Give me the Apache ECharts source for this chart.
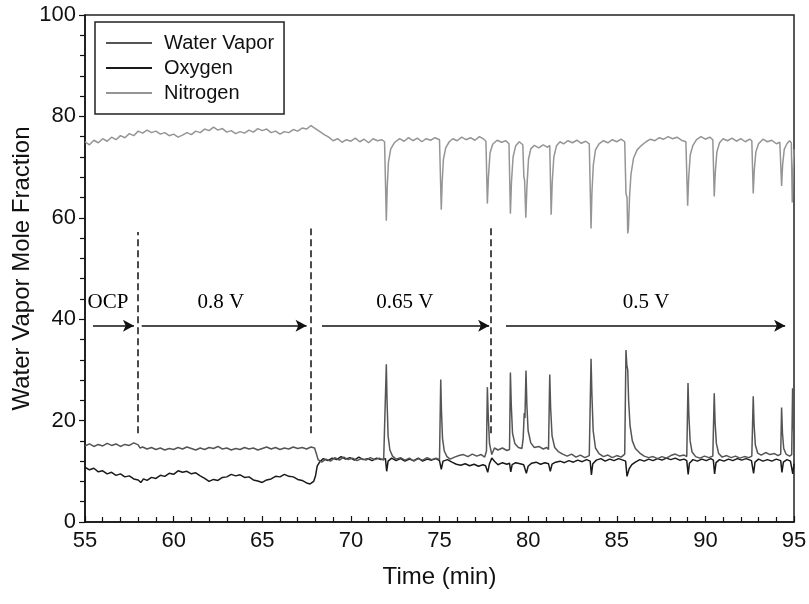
<!DOCTYPE html>
<html>
<head>
<meta charset="utf-8">
<script src="https://cdn.jsdelivr.net/npm/echarts@6/dist/echarts.min.js"></script>
<style>
  html, body { margin: 0; padding: 0; background: #fff; }
  #main { width: 809px; height: 604px; }
</style>
</head>
<body>
<div id="main"></div>
<script>
// [time (min), mole fraction]
const nitrogen = [
  [55.0,75.0],[55.25,74.4],[55.5,75.3],[55.75,74.8],[56.0,75.6],[56.25,75.1],[56.5,75.9],[56.75,75.4],
  [57.0,76.2],[57.25,75.8],[57.5,76.6],[57.75,76.2],[58.0,77.1],[58.25,76.7],[58.5,77.3],[58.75,76.8],
  [59.0,77.1],[59.25,76.5],[59.5,76.8],[59.75,76.2],[60.0,76.5],[60.25,75.9],[60.5,76.3],[60.75,76.8],
  [61.0,76.4],[61.25,77.1],[61.5,76.8],[61.75,77.5],[62.0,77.2],[62.25,77.9],[62.5,77.3],[62.75,77.6],
  [63.0,76.9],[63.25,77.2],[63.5,76.6],[63.75,77.0],[64.0,76.7],[64.25,77.3],[64.5,76.9],[64.75,77.6],
  [65.0,77.2],[65.25,77.5],[65.5,76.8],[65.75,77.1],[66.0,76.5],[66.25,77.0],[66.5,76.8],[66.75,77.4],
  [67.0,77.1],[67.25,77.7],[67.5,77.5],[67.75,78.2],[68.0,77.6],[68.25,77.0],[68.5,76.4],[68.75,75.9],
  [69.0,75.2],[69.25,75.6],[69.5,74.9],[69.75,75.4],[70.0,75.1],[70.25,75.7],[70.5,75.0],[70.75,75.5],
  [71.0,74.8],[71.25,75.6],[71.5,75.2],[71.75,75.4],[71.9,75.0],[72.0,59.4],[72.05,66],[72.12,71.0],
  [72.25,73.6],[72.45,74.8],[72.75,75.6],[73.0,75.1],[73.25,75.8],[73.5,75.2],[73.75,75.7],[74.0,75.0],
  [74.25,75.6],[74.5,75.3],[74.75,75.8],[75.0,75.4],[75.1,61.6],[75.15,67],[75.22,71.5],[75.35,73.8],
  [75.55,75.0],[75.75,75.6],[76.0,75.2],[76.25,75.9],[76.5,75.4],[76.75,75.8],[77.0,75.3],[77.25,76.0],
  [77.5,75.5],[77.62,75.1],[77.7,62.8],[77.76,68],[77.85,72.8],[78.0,74.5],[78.25,75.3],[78.5,74.9],
  [78.75,75.2],[78.92,74.6],[79.0,60.8],[79.06,67],[79.15,72],[79.3,74.2],[79.5,75.0],[79.7,74.4],
  [79.76,68.0],[79.8,67.5],[79.87,60.0],[79.93,66],[80.02,71.5],[80.15,73.6],[80.35,74.3],[80.6,73.8],
  [80.85,74.4],[81.1,73.9],[81.22,74.3],[81.3,60.6],[81.36,67],[81.45,72],[81.6,74.2],[81.8,75.0],
  [82.0,74.6],[82.25,75.2],[82.5,74.8],[82.75,75.3],[83.0,74.7],[83.25,75.1],[83.45,74.6],[83.55,57.9],
  [83.6,65],[83.68,70.5],[83.8,73.4],[84.0,74.6],[84.25,75.2],[84.5,74.8],[84.75,75.4],[85.0,75.0],
  [85.25,75.5],[85.45,75.0],[85.52,64.8],[85.58,64.0],[85.62,56.9],[85.66,58],[85.72,64],[85.8,68.5],
  [85.95,71.8],[86.15,73.4],[86.4,74.3],[86.65,75.0],[86.9,75.5],[87.15,75.2],[87.4,75.8],[87.65,75.5],
  [87.9,76.0],[88.15,75.6],[88.4,75.9],[88.65,75.3],[88.9,75.0],[89.0,62.4],[89.06,68],[89.15,72.5],
  [89.3,74.3],[89.5,75.4],[89.75,76.0],[90.0,75.5],[90.25,75.9],[90.42,75.4],[90.5,64.2],[90.56,69],
  [90.65,73],[90.8,74.8],[91.0,75.6],[91.25,75.2],[91.5,75.7],[91.75,75.1],[92.0,75.6],[92.25,75.0],
  [92.5,75.5],[92.62,75.2],[92.7,64.8],[92.76,69.5],[92.85,73],[93.0,74.6],[93.25,75.5],[93.5,75.0],
  [93.75,75.3],[94.0,74.6],[94.2,74.9],[94.3,66.3],[94.36,70.5],[94.45,73.5],[94.6,74.6],[94.75,75.2],
  [94.85,74.8],[94.9,63.0],[94.95,69],[95.0,73.5]
];

const waterVapor = [
  [55.0,15.0],[55.25,15.4],[55.5,14.9],[55.75,15.3],[56.0,15.0],[56.25,15.5],[56.5,15.1],[56.75,15.4],
  [57.0,14.9],[57.25,15.3],[57.5,15.1],[57.75,15.6],[58.0,15.2],[58.1,14.6],[58.25,14.8],[58.5,14.4],
  [58.75,14.7],[59.0,14.3],[59.25,14.6],[59.5,14.2],[59.75,14.5],[60.0,14.3],[60.25,14.7],[60.5,14.4],
  [60.75,14.8],[61.0,14.5],[61.25,14.2],[61.5,14.6],[61.75,14.3],[62.0,14.7],[62.25,14.5],[62.5,14.9],
  [62.75,14.4],[63.0,14.6],[63.25,14.2],[63.5,14.5],[63.75,14.3],[64.0,14.7],[64.25,14.4],[64.5,14.6],
  [64.75,14.2],[65.0,14.5],[65.25,14.8],[65.5,14.4],[65.75,14.7],[66.0,14.3],[66.25,14.6],[66.5,14.4],
  [66.75,14.8],[67.0,14.5],[67.25,14.7],[67.5,14.4],[67.75,14.8],[67.95,14.6],[68.05,13.5],[68.15,12.3],
  [68.35,11.8],[68.6,12.4],[68.85,12.0],[69.1,12.7],[69.35,12.2],[69.6,12.8],[69.85,12.3],[70.1,12.6],
  [70.35,12.1],[70.6,12.5],[70.85,12.2],[71.1,12.7],[71.35,12.3],[71.6,12.6],[71.85,12.2],[71.95,12.4],
  [72.0,31.1],[72.04,24],[72.1,17.0],[72.2,14.2],[72.35,13.0],[72.55,12.4],[72.8,12.7],[73.05,12.2],
  [73.3,12.6],[73.55,12.0],[73.8,12.5],[74.05,12.2],[74.3,12.7],[74.55,12.3],[74.8,12.6],[75.0,12.3],
  [75.07,28.1],[75.11,22],[75.17,16.5],[75.27,14.0],[75.42,12.9],[75.6,12.4],[75.85,12.8],[76.1,13.1],
  [76.35,13.3],[76.6,12.9],[76.85,13.4],[77.1,13.0],[77.35,13.3],[77.55,12.8],[77.65,14],[77.7,26.6],
  [77.75,21],[77.82,15.5],[77.95,13.3],[78.1,14.6],[78.3,14.2],[78.55,14.6],[78.8,14.1],[78.95,14.3],
  [79.0,29.5],[79.05,23],[79.12,17.5],[79.25,15.5],[79.45,14.7],[79.65,14.5],[79.72,16.5],[79.78,21.5],
  [79.82,20.5],[79.88,29.9],[79.93,23],[80.0,18],[80.15,15.6],[80.35,14.7],[80.6,14.9],[80.85,14.4],
  [81.05,14.7],[81.15,14.3],[81.22,29.1],[81.27,22.5],[81.35,17],[81.5,14.7],[81.7,13.9],[81.95,13.4],
  [82.2,13.0],[82.45,13.4],[82.7,12.8],[82.95,13.2],[83.2,12.7],[83.45,13.1],[83.55,32.2],[83.6,25],
  [83.67,18],[83.8,14.6],[84.0,13.5],[84.25,12.9],[84.5,13.2],[84.75,12.7],[85.0,13.1],[85.25,12.8],
  [85.45,13.4],[85.52,33.9],[85.57,30.9],[85.62,30.0],[85.67,24],[85.75,19],[85.88,16],[86.05,14.5],
  [86.3,13.6],[86.55,13.0],[86.8,12.7],[87.05,12.9],[87.3,12.5],[87.55,12.9],[87.8,12.6],[88.05,13.1],
  [88.3,13.4],[88.55,13.0],[88.8,13.2],[88.95,12.9],[89.02,27.4],[89.07,21],[89.14,16],[89.25,13.8],
  [89.45,12.9],[89.7,12.6],[89.95,13.0],[90.2,12.7],[90.42,13.0],[90.5,25.4],[90.55,19.5],[90.62,15.5],
  [90.75,13.5],[90.95,12.8],[91.2,13.1],[91.45,12.7],[91.7,13.0],[91.95,12.6],[92.2,12.9],[92.45,12.7],
  [92.62,13.0],[92.7,24.8],[92.75,19],[92.82,15.2],[92.95,13.6],[93.15,13.2],[93.4,13.7],[93.65,13.3],
  [93.9,13.5],[94.1,13.1],[94.25,13.4],[94.3,22.6],[94.35,17.5],[94.42,14.5],[94.55,13.4],[94.75,13.0],
  [94.87,13.3],[94.92,26.4],[94.97,19],[95.0,16]
];

const oxygen = [
  [55.0,10.8],[55.25,10.3],[55.5,10.6],[55.75,9.9],[56.0,10.1],[56.25,9.5],[56.5,9.8],[56.75,9.2],
  [57.0,9.5],[57.25,8.9],[57.5,9.1],[57.75,8.5],[58.0,8.3],[58.15,7.8],[58.3,8.5],[58.5,8.2],
  [58.75,8.8],[59.0,8.6],[59.25,9.2],[59.5,9.0],[59.75,9.6],[60.0,9.4],[60.25,10.1],[60.5,9.8],
  [60.75,10.0],[61.0,9.5],[61.25,9.7],[61.5,9.1],[61.75,8.6],[62.0,8.0],[62.25,8.4],[62.5,8.2],
  [62.75,8.8],[63.0,8.9],[63.25,9.4],[63.5,9.1],[63.75,9.3],[64.0,8.8],[64.25,8.9],[64.5,8.3],
  [64.75,8.1],[65.0,7.8],[65.25,8.3],[65.5,8.5],[65.75,9.0],[66.0,8.9],[66.25,9.4],[66.5,9.0],
  [66.75,8.9],[67.0,8.4],[67.25,8.2],[67.5,7.7],[67.7,7.5],[67.9,8.0],[68.0,9.0],[68.1,11.0],
  [68.25,11.9],[68.45,12.5],[68.7,12.1],[68.95,12.6],[69.2,12.3],[69.45,12.9],[69.7,12.4],[69.95,12.7],
  [70.2,12.2],[70.45,12.8],[70.7,12.3],[70.95,12.5],[71.2,12.1],[71.45,12.6],[71.7,12.3],[71.95,12.5],
  [72.02,10.0],[72.1,12.0],[72.3,12.6],[72.55,12.1],[72.8,12.5],[73.05,12.0],[73.3,12.4],[73.55,12.1],
  [73.8,12.6],[74.05,12.0],[74.3,12.4],[74.55,12.2],[74.8,12.5],[75.0,12.1],[75.1,10.4],[75.2,12.0],
  [75.45,12.3],[75.7,11.8],[75.95,11.4],[76.2,11.2],[76.45,11.5],[76.7,11.1],[76.95,11.4],[77.2,11.0],
  [77.45,11.3],[77.6,11.1],[77.72,9.8],[77.82,11.5],[77.95,12.6],[78.1,12.0],[78.3,11.3],[78.55,11.7],
  [78.8,11.4],[78.95,11.6],[79.02,9.9],[79.1,11.3],[79.3,11.7],[79.55,11.5],[79.75,11.3],[79.9,9.6],
  [80.0,11.0],[80.2,11.6],[80.45,11.8],[80.7,11.4],[80.95,11.7],[81.15,11.5],[81.25,10.0],[81.35,11.4],
  [81.55,11.8],[81.8,12.0],[82.05,11.7],[82.3,12.1],[82.55,11.8],[82.8,12.2],[83.05,11.9],[83.3,12.3],
  [83.5,12.0],[83.57,9.3],[83.65,11.5],[83.85,12.2],[84.1,12.5],[84.35,12.0],[84.6,12.4],[84.85,12.1],
  [85.1,12.5],[85.35,12.2],[85.5,12.0],[85.58,9.0],[85.7,10.5],[85.85,11.3],[86.05,11.8],[86.3,12.3],
  [86.55,12.0],[86.8,12.4],[87.05,12.1],[87.3,12.5],[87.55,12.2],[87.8,12.6],[88.05,12.3],[88.3,12.6],
  [88.55,12.2],[88.8,12.4],[88.95,12.1],[89.03,9.4],[89.1,11.6],[89.3,12.3],[89.55,12.0],[89.8,12.4],
  [90.05,12.1],[90.3,12.5],[90.45,12.2],[90.52,9.5],[90.6,11.7],[90.8,12.3],[91.05,12.0],[91.3,12.4],
  [91.55,12.1],[91.8,12.5],[92.05,12.2],[92.3,12.5],[92.6,12.1],[92.72,9.6],[92.8,11.8],[93.0,12.4],
  [93.25,12.0],[93.5,12.3],[93.75,12.0],[94.0,12.4],[94.25,12.1],[94.32,9.8],[94.4,11.8],[94.6,12.3],
  [94.8,12.0],[94.93,9.5],[95.0,11.5]
];

// operating phases
const phaseNames = ['OCP', '0.8 V', '0.65 V', '0.5 V'];
const phaseLabelX = [56.3, 62.67, 73.05, 86.65];
const phaseLabelY = 43.2;
const arrowStart = [55.45, 58.2, 68.37, 78.75];
const arrowEnd = [57.76, 67.5, 77.8, 94.5];
const arrowY = 38.7;
const dividerX = [57.96, 67.72, 77.9];
const dividerBottom = 17.5;
const dividerTop = [57.2, 57.9, 58.5];

const xTicks = { min: 55, max: 95, interval: 5 };
const yTicks = { min: 0, max: 100, interval: 20 };

const sans = 'Liberation Sans, Arial, sans-serif';
const serif = 'Liberation Serif, Times New Roman, serif';

const markLines = [];
dividerX.forEach((x, i) => {
  markLines.push([
    { coord: [x, dividerBottom], symbol: 'none', lineStyle: { type: [7, 4], width: 1.5, color: '#111' } },
    { coord: [x, dividerTop[i]], symbol: 'none' }
  ]);
});
arrowStart.forEach((x, i) => {
  markLines.push([
    { coord: [x, arrowY], symbol: 'none', lineStyle: { type: 'solid', width: 1.5, color: '#111' } },
    { coord: [arrowEnd[i], arrowY], symbol: 'arrow', symbolSize: [9, 11] }
  ]);
});

const chart = echarts.init(document.getElementById('main'));
const option = {
  backgroundColor: '#fff',
  animation: false,
  grid: {
    left: 85, right: 15, top: 15, bottom: 82,
    containLabel: false, outerBoundsMode: 'none',
    show: true, borderColor: '#222', borderWidth: 1.5, backgroundColor: 'transparent'
  },
  legend: {
    data: ['Water Vapor', 'Oxygen', 'Nitrogen'],
    orient: 'vertical',
    left: 95, top: 22,
    padding: [11, 10, 11, 10],
    itemGap: 5,
    itemWidth: 46,
    itemHeight: 20,
    borderColor: '#222',
    borderWidth: 1.5,
    itemStyle: { color: 'transparent', borderWidth: 0, opacity: 0 },
    textStyle: { fontFamily: sans, fontSize: 20, color: '#111', padding: [0, 0, 0, 7] }
  },
  xAxis: {
    type: 'value',
    min: xTicks.min, max: xTicks.max, interval: xTicks.interval,
    name: 'Time (min)', nameLocation: 'middle', nameGap: 43, nameMoveOverlap: false,
    nameTextStyle: { fontFamily: sans, fontSize: 24, color: '#111' },
    axisLine: { lineStyle: { color: '#111', width: 1.5 } },
    axisTick: { inside: true, length: 6, lineStyle: { color: '#111', width: 1.2 } },
    minorTick: { show: true, splitNumber: 5, length: 5, lineStyle: { color: '#111', width: 1.2 } },
    axisLabel: { fontFamily: sans, fontSize: 22, color: '#111', margin: 8 },
    splitLine: { show: false }
  },
  yAxis: {
    type: 'value',
    min: yTicks.min, max: yTicks.max, interval: yTicks.interval,
    name: 'Water Vapor Mole Fraction', nameLocation: 'middle', nameGap: 51, nameMoveOverlap: false,
    nameTextStyle: { fontFamily: sans, fontSize: 24, color: '#111' },
    axisLine: { lineStyle: { color: '#111', width: 1.5 } },
    axisTick: { inside: false, length: 6, lineStyle: { color: '#111', width: 1.2 } },
    minorTick: { show: true, splitNumber: 5, length: 5, lineStyle: { color: '#111', width: 1.2 } },
    axisLabel: { fontFamily: sans, fontSize: 22, color: '#111', margin: 9 },
    splitLine: { show: false }
  },
  series: [
    {
      name: 'Water Vapor', type: 'line', data: waterVapor, symbol: 'none',
      lineStyle: { color: '#555', width: 1.5 }, itemStyle: { color: '#777' }, z: 3
    },
    {
      name: 'Oxygen', type: 'line', data: oxygen, symbol: 'none',
      lineStyle: { color: '#1a1a1a', width: 1.5 }, itemStyle: { color: '#444' }, z: 2
    },
    {
      name: 'Nitrogen', type: 'line', data: nitrogen, symbol: 'none',
      lineStyle: { color: '#959595', width: 1.5 }, itemStyle: { color: '#aaa' }, z: 2
    },
    {
      name: 'phases', type: 'scatter', symbolSize: 0, silent: true, z: 5,
      itemStyle: { opacity: 1 },
      data: phaseNames.map((n, i) => ({ name: n, value: [phaseLabelX[i], phaseLabelY] })),
      label: {
        show: true, position: 'inside', formatter: p => p.name, opacity: 1,
        fontFamily: serif, fontSize: 21, color: '#000'
      },
      markLine: { silent: true, animation: false, label: { show: false }, data: markLines }
    }
  ]
};
chart.setOption(option);
</script>
</body>
</html>
